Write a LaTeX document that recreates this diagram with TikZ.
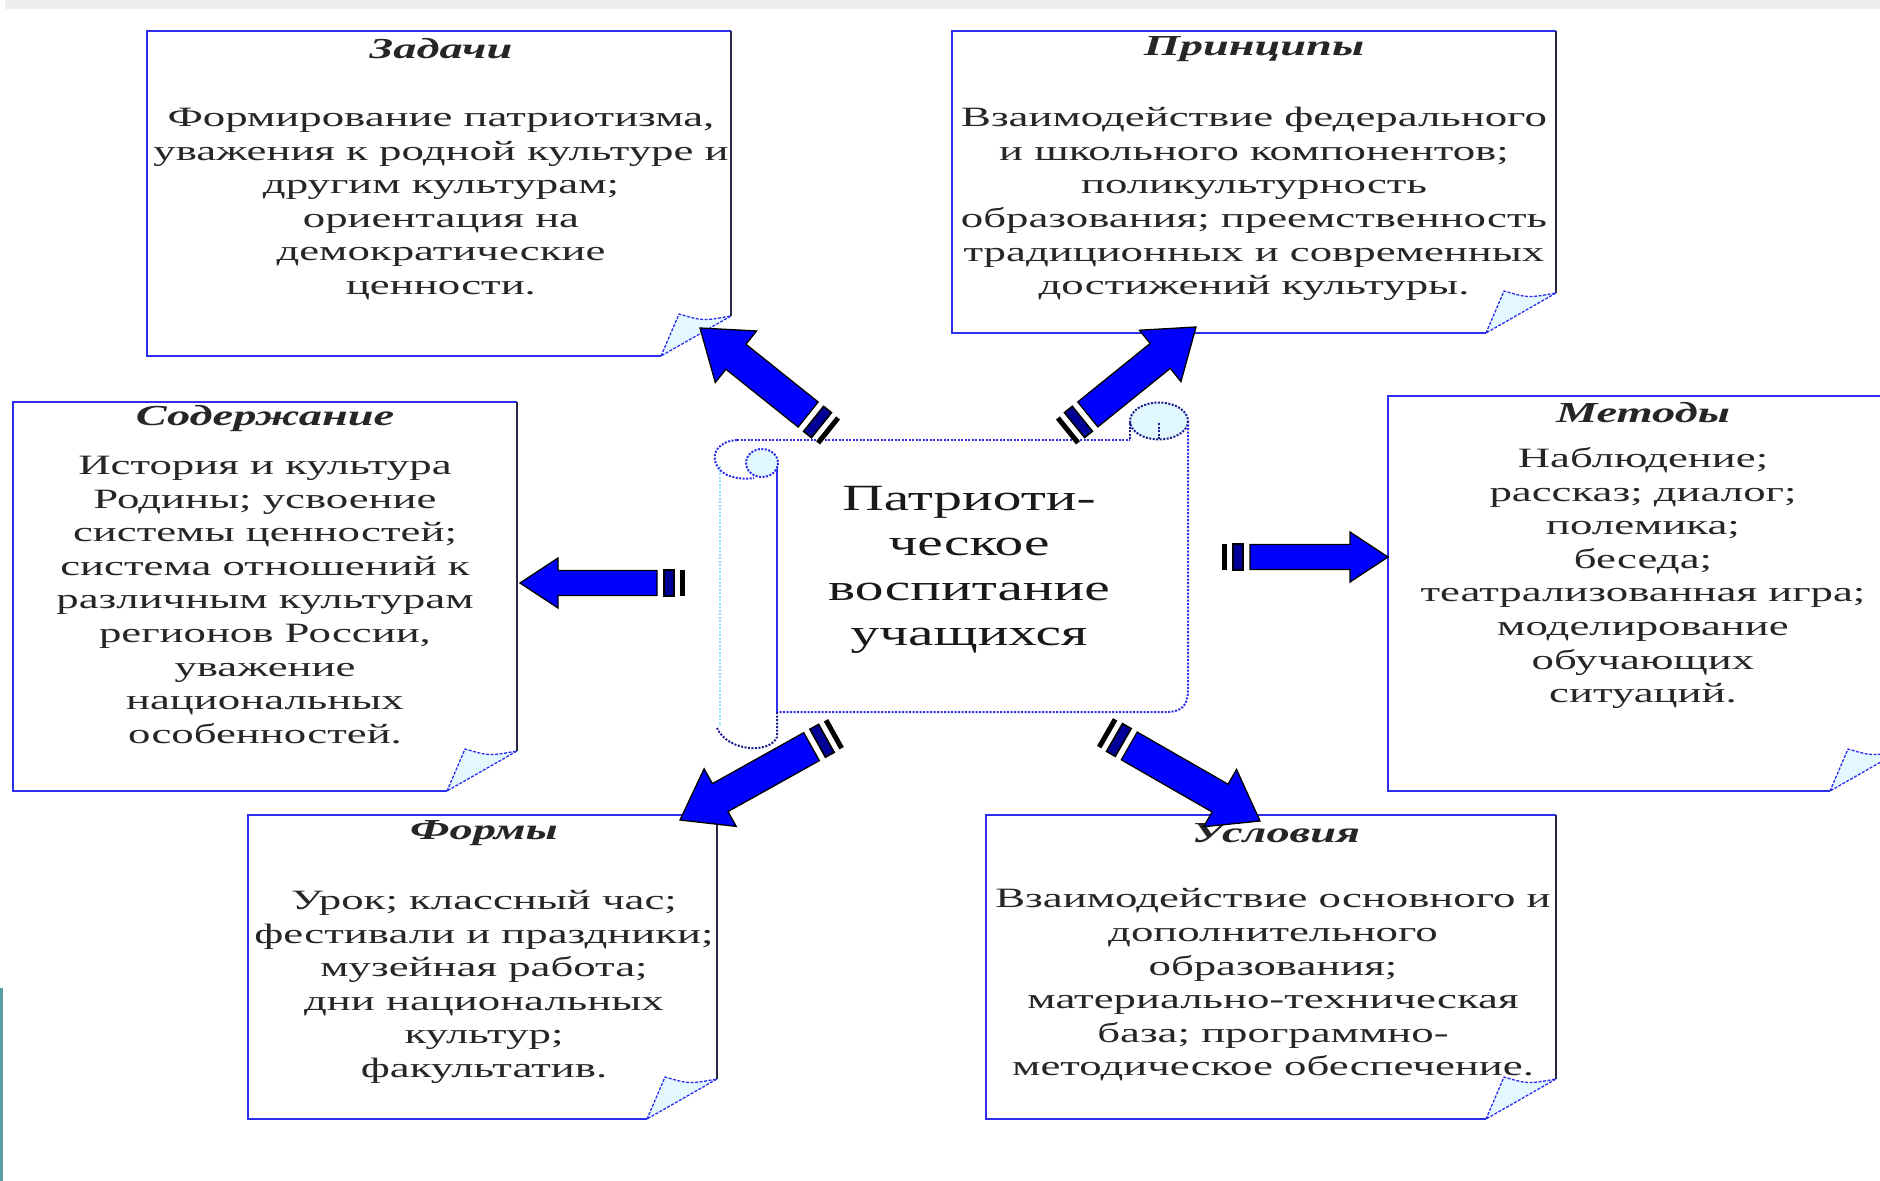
\documentclass[tikz,border=0pt]{standalone}
\usepackage{fontspec}
\setmainfont{Liberation Serif}[FakeStretch=1.6]
\newfontfamily\cfont{Liberation Serif}[FakeStretch=1.55]
\usetikzlibrary{calc}
\definecolor{boxblue}{RGB}{45,45,235}
\definecolor{arrblue}{RGB}{0,0,255}
\definecolor{flapfill}{RGB}{228,248,255}
\definecolor{edgedark}{RGB}{40,40,70}
\definecolor{scrollcyan}{RGB}{225,248,255}
\definecolor{tealline}{RGB}{90,160,160}
\definecolor{lightcyanline}{RGB}{150,225,245}
\tikzset{
  bodytext/.style={font=\fontsize{28}{33.6}\selectfont, align=center, inner sep=0pt, text=black!85},
  titletext/.style={font=\fontsize{29}{33.6}\selectfont\bfseries\itshape, inner sep=0pt, text=black!85},
  centertext/.style={font=\cfont\fontsize{37}{45}\selectfont, align=center, inner sep=0pt, text=black!90},
  boxedge/.style={draw=boxblue, line width=2.4pt},
  darkedge/.style={draw=edgedark, line width=2.4pt},
  flapshape/.style={fill=flapfill, draw=boxblue, line width=1.3pt, dash pattern=on 3pt off 1.5pt},
  arrowbody/.style={fill=arrblue, draw=black, line width=1.3pt, line join=miter},
  thickbar/.style={fill=arrblue!60!black, draw=black, line width=1.6pt},
  sdot/.style={draw=boxblue, line width=2pt, dash pattern=on 2pt off 1.5pt},
  sdotdark/.style={draw=boxblue!60!black, line width=2pt, dash pattern=on 2pt off 1.5pt},
  lightdot/.style={draw=lightcyanline, line width=1.6pt, dash pattern=on 2pt off 1.5pt},
}
\newcommand\foldbox[4]{%
  \draw[boxedge] (#3-70,#4) -- (#1,#4) -- (#1,#2) -- (#3,#2);
  \draw[darkedge] (#3,#2) -- (#3,#4-40);
  \draw[flapshape] (#3-70,#4) -- (#3-52,#4-42) .. controls (#3-28,#4-35) .. (#3,#4-40) -- cycle;
}
% #1 tail, #2 tip, #3 shaft half width, #4 head half width, #5 head length, #6 bar half width
\newcommand\sarrow[6]{%
  \coordinate (aS) at ($(#1)!28pt!(#2)$);
  \coordinate (aE) at ($(#2)!#5pt!(#1)$);
  \coordinate (aBa) at ($(#1)!11pt!(#2)$);
  \coordinate (aBb) at ($(#1)!21pt!(#2)$);
  \coordinate (aBc) at ($(#1)!5pt!(#2)$);
  \filldraw[arrowbody] ($(aS)!#3pt!90:(#2)$) -- ($(aE)!#3pt!-90:(#1)$) -- ($(aE)!#4pt!-90:(#1)$) -- (#2)
     -- ($(aE)!#4pt!90:(#1)$) -- ($(aE)!#3pt!90:(#1)$) -- ($(aS)!#3pt!-90:(#2)$) -- cycle;
  \filldraw[thickbar] ($(aBa)!#6pt!90:(#2)$) -- ($(aBb)!#6pt!90:(#2)$) -- ($(aBb)!#6pt!-90:(#2)$) -- ($(aBa)!#6pt!-90:(#2)$) -- cycle;
  \fill[black] ($(#1)!#6pt!90:(#2)$) -- ($(aBc)!#6pt!90:(#2)$) -- ($(aBc)!#6pt!-90:(#2)$) -- ($(#1)!#6pt!-90:(#2)$) -- cycle;
}
\begin{document}
\begin{tikzpicture}[x=1pt,y=-1pt]
\useasboundingbox (0,0) rectangle (1880,1181);
\clip (0,0) rectangle (1880,1181);
\fill[white] (0,0) rectangle (1880,1181);
\fill[gray!13] (5,0) rectangle (1880,9);
\fill[tealline] (0,988) rectangle (2.5,1181);

% boxes
\foldbox{147}{31}{731}{356}
\foldbox{952}{31}{1556}{333}
\foldbox{13}{402}{517}{791}
\foldbox{1388}{396}{1900}{791}
\foldbox{248}{815}{717}{1119}
\foldbox{986}{815}{1556}{1119}

% titles
\node[titletext] (tZ) at (441,49) {Задачи};
\node[titletext] (tP) at (1254,49) {Принципы};
\node[titletext] (tS) at (265,419) {Содержание};
\node[titletext] (tM) at (1643,413) {Методы};
\node[titletext] (tF) at (484,833) {Формы};
\node[titletext] (tU) at (1276,833) {Условия};

% bodies
\node[bodytext] (bZ) at (441,204) {Формирование патриотизма,\\уважения к родной культуре и\\другим культурам;\\ориентация на\\демократические\\ценности.};
\node[bodytext] (bP) at (1254,204) {Взаимодействие федерального\\и школьного компонентов;\\поликультурность\\образования; преемственность\\традиционных и современных\\достижений культуры.};
\node[bodytext] (bS) at (265,600) {История и культура\\Родины; усвоение\\системы ценностей;\\система отношений к\\различным культурам\\регионов России,\\уважение\\национальных\\особенностей.};
\node[bodytext] (bM) at (1643,578) {Наблюдение;\\рассказ; диалог;\\полемика;\\беседа;\\театрализованная игра;\\моделирование\\обучающих\\ситуаций.};
\node[bodytext] (bF) at (484,987) {Урок; классный час;\\фестивали и праздники;\\музейная работа;\\дни национальных\\культур;\\факультатив.};
\node[bodytext] (bU) at (1273,985) {Взаимодействие основного и\\дополнительного\\образования;\\материально-техническая\\база; программно-\\методическое обеспечение.};

% scroll
\fill[white] (720,440) rectangle (1188,712);
\draw[sdot] (737,440) -- (1130,440);
\draw[sdot] (1188,421) -- (1188,690) .. controls (1188,706) and (1181,712) .. (1166,712) -- (777,712);
\draw[lightdot] (720,466) -- (720,726);
\draw[line width=2.4pt, boxblue] (777,462) -- (777,712);
\draw[sdotdark] (777,712) -- (777,737) .. controls (770,754) and (728,752) .. (717,728);
% top-left curl
\draw[sdot] (737,440) .. controls (720,441) and (711,452) .. (716,464) .. controls (722,477) and (738,480) .. (754,478);
\filldraw[fill=scrollcyan, sdot] (762,463) ellipse [x radius=16, y radius=14];
% top-right curl
\filldraw[fill=scrollcyan, sdotdark] (1159,421) ellipse [x radius=29, y radius=18.5];
\draw[sdotdark] (1159,423) -- (1159,440);
\draw[sdotdark] (1130,423) -- (1130,440);

\node[centertext] (center) at (969,570) {Патриоти-\\ческое\\воспитание\\учащихся};

% arrow end points
\coordinate (a1t) at (830,432); \coordinate (a1h) at (700,328);
\coordinate (a2t) at (1066,432); \coordinate (a2h) at (1196,327);
\coordinate (a3t) at (685,583); \coordinate (a3h) at (520,583);
\coordinate (a4t) at (1222,557); \coordinate (a4h) at (1388,557);
\coordinate (a5t) at (836,733); \coordinate (a5h) at (680,820);
\coordinate (a6t) at (1105,732); \coordinate (a6h) at (1260,821);
\sarrow{a1t}{a1h}{16}{33}{46}{16}
\sarrow{a2t}{a2h}{16}{33}{46}{16}
\sarrow{a3t}{a3h}{12.5}{25}{38}{13}
\sarrow{a4t}{a4h}{12.5}{25}{38}{13}
\sarrow{a5t}{a5h}{16}{33}{46}{16}
\sarrow{a6t}{a6h}{16}{33}{46}{16}
\end{tikzpicture}
\end{document}
